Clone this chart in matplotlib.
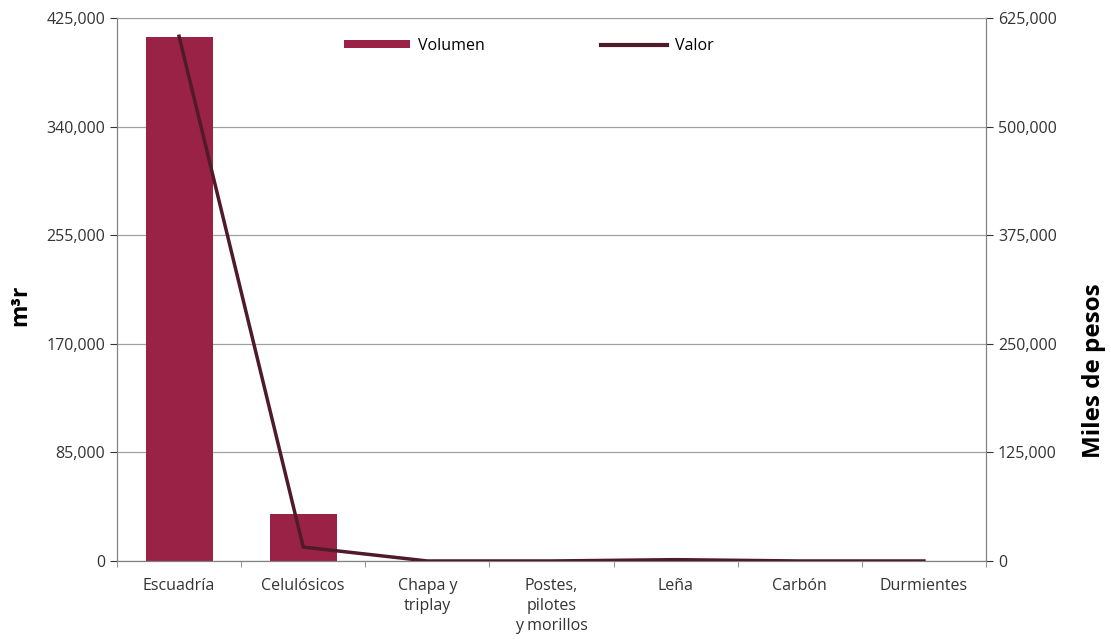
import matplotlib.pyplot as plt
from matplotlib.lines import Line2D
from matplotlib.patches import Patch
from matplotlib.ticker import FuncFormatter
import numpy as np

plt.rcParams['font.family'] = ['Open Sans', 'DejaVu Sans']

categorias = ['Escuadría', 'Celulósicos', 'Chapa y\ntriplay', 'Postes,\npilotes\ny morillos',
              'Leña', 'Carbón', 'Durmientes']
volumen = [410500, 36800, 0, 0, 0, 0, 0]       # m3r
valor = [604000, 16000, 0, 0, 1500, 0, 0]      # miles de pesos

color_bar = '#9b2247'
color_line = '#4f1a2a'

fig = plt.figure(figsize=(11.11, 6.39), dpi=100)
ax = fig.add_axes([0.1053, 0.1221, 0.7822, 0.8497])
x = np.arange(len(categorias))

ax.bar(x, volumen, width=0.54, color=color_bar, zorder=2)
ax.set_xlim(-0.5, len(categorias) - 0.5)
ax.set_ylim(0, 425000)
ax.set_yticks(np.arange(0, 425001, 85000))
ax.yaxis.set_major_formatter(FuncFormatter(lambda v, p: f'{int(v):,}'))
ax.grid(axis='y', color='#a0a0a0', linewidth=0.9, zorder=0)
ax.set_xticks(x)
ax.set_xticklabels(categorias, fontsize=11.5, color='#333333', linespacing=1.35)
ax.set_xticks(np.arange(-0.5, len(categorias)), minor=True)
ax.tick_params(axis='x', which='major', length=0, pad=12)
ax.tick_params(axis='x', which='minor', length=4, color='#808080')
ax.tick_params(axis='y', labelsize=11.5, colors='#333333', length=5)
ax.set_ylabel('m³r', fontsize=16.5, fontweight='bold')
ax.yaxis.set_label_coords(-0.098, 0.47)

for s in ['top']:
    ax.spines[s].set_visible(False)
for s in ['left', 'bottom', 'right']:
    ax.spines[s].set_color('#808080')

ax2 = ax.twinx()
ax2.plot(x, valor, color=color_line, linewidth=2.5, zorder=3)
ax2.set_ylim(0, 625000)
ax2.set_yticks(np.arange(0, 625001, 125000))
ax2.yaxis.set_major_formatter(FuncFormatter(lambda v, p: f'{int(v):,}'))
ax2.tick_params(axis='y', labelsize=11.5, colors='#333333', length=5)
ax2.set_ylabel('Miles de pesos', fontsize=17.5, fontweight='bold')
ax2.yaxis.set_label_coords(1.11, 0.35)
ax2.spines['top'].set_color('#a0a0a0')
for s in ['left', 'bottom', 'right']:
    ax2.spines[s].set_color('#808080')

handles = [Patch(facecolor=color_bar), Line2D([0], [0], color=color_line, linewidth=3)]
ax2.legend(handles, ['Volumen', 'Valor'], loc='upper left', bbox_to_anchor=(0.245, 0.99),
           ncol=2, frameon=False, fontsize=11.5, handlelength=4.1, handleheight=0.45,
           columnspacing=7.3, handletextpad=0.5)

fig.savefig('out.png', dpi=100)
